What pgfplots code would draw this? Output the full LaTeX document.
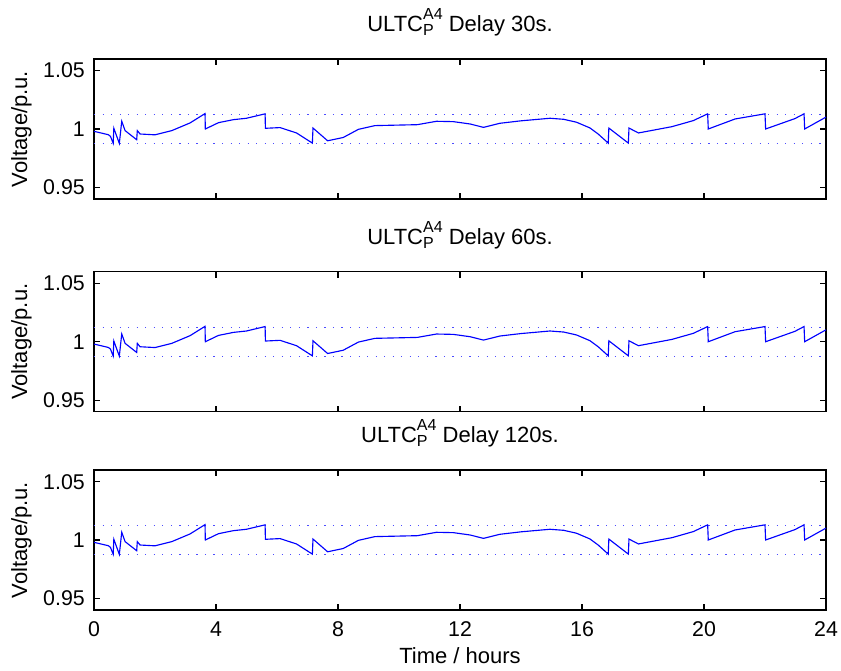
\documentclass[border=0pt]{standalone}
\usepackage{fontspec}
\setmainfont{Liberation Sans}
\usepackage{pgfplots}
\pgfplotsset{compat=1.18}
\usepackage{pgfplotstable}

\pgfplotstableread{
t V
0 0.9980
0.47 0.9951
0.54 0.9937
0.63 0.9877
0.65 1.0006
0.83 0.9877
0.91 1.0066
1.02 0.9986
1.40 0.9908
1.42 0.9986
1.51 0.9957
2.00 0.9950
2.55 0.9986
3.15 1.0052
3.64 1.0132
3.65 1.0000
4.08 1.0054
4.57 1.0080
5.00 1.0092
5.61 1.0130
5.62 1.0006
6.10 1.0012
6.64 0.9966
7.16 0.9879
7.18 1.0008
7.66 0.9899
8.17 0.9927
8.67 0.9997
9.21 1.0029
10.6 1.0037
11.23 1.0066
11.78 1.0063
12.33 1.0043
12.77 1.0014
13.31 1.0049
14.0 1.0070
14.95 1.0092
15.4 1.0083
15.82 1.0058
16.26 1.0009
16.53 0.9957
16.86 0.9879
16.88 1.0008
17.52 0.9879
17.54 1.0008
17.85 0.9966
18.95 1.0020
19.65 1.0072
20.12 1.0130
20.14 1.0000
21.02 1.0086
22.00 1.0130
22.02 1.0000
22.98 1.0089
23.28 1.0130
23.30 1.0000
24.00 1.0102
}\voltdata

\newcommand{\ulsup}[2]{\setbox0\hbox{\fontsize{12}{12}\selectfont #1}\setbox2\hbox{\fontsize{12}{12}\selectfont #2}\rlap{\raisebox{8.7pt}{\copy0}}\raisebox{-3.3pt}{\copy2}\kern\dimexpr\wd0-\wd2\relax}

\pgfplotsset{
  panel/.style={
    scale only axis,
    width=549pt, height=105pt,
    xmin=0, xmax=24, ymin=0.94, ymax=1.06,
    xtick={0,4,8,12,16,20,24},
    ytick={0.95,1,1.05},
    tick align=inside,
    major tick length=4.5pt,
    axis line style={line width=1pt, black},
    every tick/.style={black, line width=0.8pt},
    /pgf/number format/assume math mode=true,
    tick label style={font=\fontsize{16}{19}\selectfont},
    xticklabel style={anchor=base, yshift=-20pt},
    yticklabel style={anchor=east, inner sep=0pt, xshift=-6.75pt},
    every axis title/.style={at={(axis description cs:0.5,1)}, anchor=base, yshift=20.6pt, font=\fontsize{16.5}{19}\selectfont},
    every axis y label/.style={at={(axis description cs:-0.0915,0.5)}, rotate=90, anchor=base, font=\fontsize{16.5}{19}\selectfont},
    every axis x label/.style={at={(axis description cs:0.5,-0.3786)}, anchor=base, font=\fontsize{16.5}{19}\selectfont},
    ylabel={Voltage/p.u.},
    clip=true,
  },
  limline/.style={color={rgb,1:red,0.3;green,0.3;blue,1}, line width=0.9pt, dash pattern=on 0.9pt off 5.5pt},
  vline/.style={color={rgb,1:red,0;green,0;blue,1}, line width=0.85pt},
}

\begin{document}
\begin{tikzpicture}
\path[use as bounding box] (0,0) rectangle (630.75pt,502.5pt);

\begin{axis}[panel, at={(70.5pt,353.25pt)}, anchor=south west,
  xticklabels={}, title={ULTC\ulsup{A4}{P} Delay 30s.}]
  \addplot[limline] coordinates {(0,1.0125) (24,1.0125)};
  \addplot[limline] coordinates {(0,0.9875) (24,0.9875)};
  \addplot[vline] table[x=t, y=V] {\voltdata};
\end{axis}

\begin{axis}[panel, at={(70.5pt,193.7pt)}, anchor=south west,
  xticklabels={}, title={ULTC\ulsup{A4}{P} Delay 60s.}]
  \addplot[limline] coordinates {(0,1.0125) (24,1.0125)};
  \addplot[limline] coordinates {(0,0.9875) (24,0.9875)};
  \addplot[vline] table[x=t, y=V] {\voltdata};
\end{axis}

\begin{axis}[panel, at={(70.5pt,45pt)}, anchor=south west,
  xlabel={Time / hours}, title={ULTC\ulsup{A4}{P} Delay 120s.}]
  \addplot[limline] coordinates {(0,1.0125) (24,1.0125)};
  \addplot[limline] coordinates {(0,0.9875) (24,0.9875)};
  \addplot[vline] table[x=t, y=V] {\voltdata};
\end{axis}
\end{tikzpicture}
\end{document}
